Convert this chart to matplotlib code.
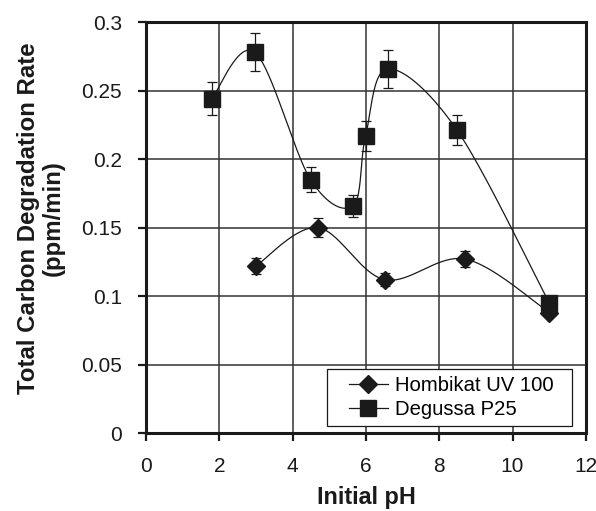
import numpy as np
import matplotlib
matplotlib.use("Agg")
import matplotlib.pyplot as plt
from matplotlib.patches import Rectangle

plt.rcParams['font.family'] = ['Liberation Sans', 'DejaVu Sans']

# pH values and rates (ppm/min) with error bar half-widths
ph_hombikat = [3.0, 4.68, 6.51, 8.71, 11.0]
rate_hombikat = [0.122, 0.150, 0.112, 0.127, 0.088]
err_hombikat = [0.006, 0.007, 0.005, 0.006, 0.003]

ph_degussa = [1.79, 2.97, 4.49, 5.65, 5.99, 6.60, 8.49, 11.0]
rate_degussa = [0.244, 0.278, 0.185, 0.166, 0.217, 0.266, 0.221, 0.095]
err_degussa = [0.012, 0.014, 0.009, 0.008, 0.011, 0.014, 0.011, 0.004]

xticks = [0, 2, 4, 6, 8, 10, 12]
yticks = [0, 0.05, 0.1, 0.15, 0.2, 0.25, 0.3]
ytick_labels = ['0', '0.05', '0.1', '0.15', '0.2', '0.25', '0.3']

INK = '#1a1a1a'


def smooth(x, y, sx, sy, n=40):
    # bezier smoothing (Excel style) done in scaled coordinates
    p = np.column_stack([np.asarray(x) * sx, np.asarray(y) * sy])
    pts = np.vstack([p[0], p, p[-1]])
    out = []
    for i in range(1, len(pts) - 2):
        p0, p1, p2, p3 = pts[i - 1], pts[i], pts[i + 1], pts[i + 2]
        b1 = p1 + (p2 - p0) / 6.0
        b2 = p2 - (p3 - p1) / 6.0
        t = np.linspace(0, 1, n)[:, None]
        seg = ((1 - t) ** 3) * p1 + 3 * ((1 - t) ** 2) * t * b1 + 3 * (1 - t) * t ** 2 * b2 + t ** 3 * p2
        out.append(seg)
    c = np.vstack(out)
    return c[:, 0] / sx, c[:, 1] / sy


fig = plt.figure(figsize=(5.96, 5.11), dpi=100)
ax = fig.add_axes([0.245, 0.1526, 0.738, 0.804])

sx, sy = 440 / 12.0, 411 / 0.3

hx, hy = smooth(ph_hombikat, rate_hombikat, sx, sy)
dx, dy = smooth(ph_degussa, rate_degussa, sx, sy)
ax.plot(hx, hy, color=INK, lw=0.9, zorder=3)
ax.plot(dx, dy, color=INK, lw=0.9, zorder=3)

ax.errorbar(ph_hombikat, rate_hombikat, yerr=err_hombikat, fmt='none',
            ecolor=INK, elinewidth=0.9, capsize=3.6, capthick=0.9, zorder=3)
ax.errorbar(ph_degussa, rate_degussa, yerr=err_degussa, fmt='none',
            ecolor=INK, elinewidth=0.9, capsize=3.6, capthick=0.9, zorder=3)

ax.plot(ph_hombikat, rate_hombikat, ls='none', marker='D', ms=9.5,
        color=INK, zorder=4)
ax.plot(ph_degussa, rate_degussa, ls='none', marker='s', ms=11,
        color=INK, zorder=4)

# legend: frame drawn separately so the side padding can be wider
box = Rectangle((0.411, 0.017), 0.557, 0.139, transform=ax.transAxes,
                facecolor='white', edgecolor=INK, lw=0.9, zorder=5)
ax.add_patch(box)
lh, = ax.plot([], [], color=INK, lw=0.9, marker='D', ms=9.5, label='Hombikat UV 100')
ld, = ax.plot([], [], color=INK, lw=0.9, marker='s', ms=11, label='Degussa P25')
leg = ax.legend(handles=[lh, ld], loc='center left', bbox_to_anchor=(0.461, 0.0864),
                fontsize=14.6, frameon=False, borderaxespad=0, borderpad=0,
                handlelength=1.92, handletextpad=0.35, labelspacing=0.25)
leg.set_zorder(6)

ax.set_xlim(0, 12)
ax.set_ylim(0, 0.3)
ax.set_xticks(xticks)
ax.set_yticks(yticks)
ax.set_xticklabels([str(v) for v in xticks])
ax.set_yticklabels(ytick_labels)
ax.grid(True, color='#333333', lw=1.1)
ax.set_axisbelow(True)

for s in ax.spines.values():
    s.set_linewidth(2.2)
    s.set_color(INK)
ax.tick_params(direction='out', length=5.8, width=1.6, labelsize=15,
               colors=INK, pad=11.5)

ax.set_xlabel('Initial pH', fontsize=16.8, fontweight='bold', color=INK, labelpad=7)
ax.set_ylabel('Total Carbon Degradation Rate\n(ppm/min)', fontsize=17.3,
              fontweight='bold', color=INK, linespacing=1.1)
ax.yaxis.set_label_coords(-0.184, 0.522)

fig.savefig('out.png', dpi=100)
